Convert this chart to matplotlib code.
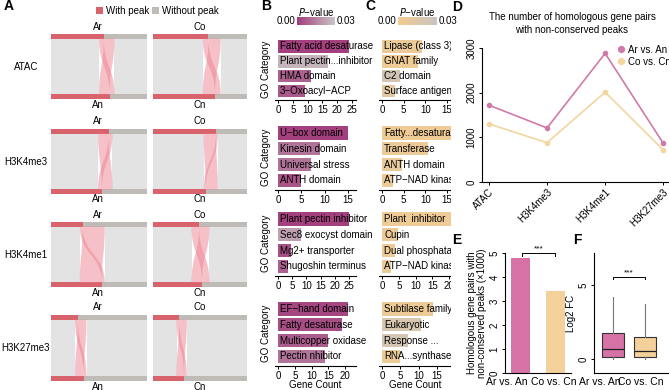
import matplotlib
matplotlib.use('Agg')
import matplotlib.pyplot as plt
import numpy as np
from matplotlib.path import Path
from matplotlib.patches import PathPatch, Rectangle
from matplotlib.colors import LinearSegmentedColormap
from matplotlib.lines import Line2D

plt.rcParams['font.family'] = ['Liberation Sans', 'DejaVu Sans']
plt.rcParams['font.size'] = 7
plt.rcParams['axes.linewidth'] = 0.8
plt.rcParams['xtick.major.size'] = 2.5
plt.rcParams['ytick.major.size'] = 2.5
plt.rcParams['xtick.major.width'] = 0.7
plt.rcParams['ytick.major.width'] = 0.7
plt.rcParams['xtick.major.pad'] = 1.2
plt.rcParams['ytick.major.pad'] = 1.5

# ---------------- data ----------------
marks = ['ATAC', 'H3K4me3', 'H3K4me1', 'H3K27me3']
# Panel A: fraction of gene pairs with conserved peak, peak only in first, peak only in second
ar_cons = [0.50, 0.49, 0.30, 0.25]
ar_only_first = [0.05, 0.11, 0.03, 0.03]
ar_only_second = [0.11, 0.04, 0.23, 0.09]
co_cons = [0.53, 0.54, 0.41, 0.25]
co_only_first = [0.06, 0.13, 0.08, 0.03]
co_only_second = [0.13, 0.02, 0.11, 0.08]

# Panel B (Ar vs. An GO enrichment)
b_terms = [
    ['Fatty acid desaturase', 'Plant pectin...inhibitor', 'HMA domain', '3\u2212Oxoacyl\u2212ACP'],
    ['U\u2212box domain', 'Kinesin domain', 'Universal stress', 'ANTH domain'],
    ['Plant pectin inhibitor', 'Sec8 exocyst domain', 'Mg2+ transporter', 'Shugoshin terminus'],
    ['EF\u2212hand domain', 'Fatty desaturase', 'Multicopper oxidase', 'Pectin nhibitor'],
]
b_counts = [[24, 17, 11, 9], [15, 9, 7, 5], [25, 8, 4.5, 3.5], [21, 19, 15, 14]]
b_pvals = [[0.001, 0.026, 0.008, 0.006], [0.001, 0.012, 0.012, 0.005],
           [0.001, 0.022, 0.004, 0.008], [0.002, 0.004, 0.007, 0.012]]
b_ticks = [[0, 5, 10, 15, 20, 25], [0, 5, 10, 15], [0, 5, 10, 15, 20, 25], [0, 5, 10, 15, 20]]

# Panel C (Co vs. Cn GO enrichment)
c_terms = [
    ['Lipase (class 3)', 'GNAT family', 'C2 domain', 'Surface antigen'],
    ['Fatty...desaturase', 'Transferase', 'ANTH domain', 'ATP\u2212NAD kinase'],
    ['Plant  inhibitor', 'Cupin', 'Dual phosphatase', 'ATP\u2212NAD kinase'],
    ['Subtilase family', 'Eukaryotic', 'Response ...', 'RNA...synthase'],
]
c_counts = [[9.2, 8.2, 4.1, 3.0], [17, 10.7, 4.5, 2.5], [21.5, 4.8, 4.0, 2.7], [14, 10.5, 7, 5]]
c_pvals = [[0.006, 0.003, 0.024, 0.012], [0.003, 0.005, 0.008, 0.004],
           [0.003, 0.006, 0.004, 0.006], [0.004, 0.02, 0.022, 0.004]]
c_ticks = [[0, 5, 10, 15], [0, 5, 10, 15], [0, 5, 10, 15, 20], [0, 5, 10, 15]]

# Panel D
d_ar = [1720, 1210, 2880, 870]
d_co = [1300, 880, 2010, 720]
# Panel E
e_labels = ['Ar vs. An', 'Co vs. Cn']
e_values = [4.79, 3.42]
# Panel F box stats: whislo, q1, med, q3, whishi
f_ar = [0.0, 0.14, 0.68, 1.76, 4.2]
f_co = [0.0, 0.14, 0.54, 1.49, 3.72]

# ---------------- style ----------------
RED = '#d9636d'
GRAYBAR = '#bfbbb7'
BG = '#e3e3e3'
RIB = '#ec8390'
PINK = '#d672a5'
BEIGE = '#f4d19b'
cmap_b = LinearSegmentedColormap.from_list('b', ['#a13d7b', '#cac6c6'])
cmap_c = LinearSegmentedColormap.from_list('c', ['#f3cc90', '#c9c4c0'])

W, H = 669, 390
fig = plt.figure(figsize=(W / 100, H / 100), dpi=100)


def pax(l, t, r, b, **kw):
    return fig.add_axes([l / W, 1 - b / H, (r - l) / W, (b - t) / H], **kw)


def ftext(x, y, s, **kw):
    kw.setdefault('ha', 'center')
    kw.setdefault('va', 'center')
    return fig.text(x / W, 1 - y / H, s, **kw)


def cat_labels(ax, positions, labels, dx_pts, fontsize=7.5):
    ax.set_xticks(positions)
    ax.set_xticklabels([])
    ax.tick_params(axis='x', length=0)
    for p, lab, dx in zip(positions, labels, dx_pts):
        ax.annotate(lab, (p, 0), xycoords=('data', 'axes fraction'), xytext=(dx, -3),
                    textcoords='offset points', ha='center', va='top', fontsize=fontsize,
                    annotation_clip=False)


# ---------------- Panel A ----------------
def ribbon(ax, tl, tr, bl, br, yt, yb):
    ym = (yt + yb) / 2
    verts = [(tl, yt), (tl, ym), (bl, ym), (bl, yb), (br, yb), (br, ym), (tr, ym), (tr, yt), (tl, yt)]
    codes = [Path.MOVETO, Path.CURVE4, Path.CURVE4, Path.CURVE4, Path.LINETO,
             Path.CURVE4, Path.CURVE4, Path.CURVE4, Path.CLOSEPOLY]
    ax.add_patch(PathPatch(Path(verts, codes), fc=RIB, ec='none', alpha=0.5, lw=0))


def sankey(ax, c, r1, r2):
    ax.set_xlim(0, 1)
    ax.set_ylim(0, 1)
    ax.axis('off')
    bh = 0.07
    yt, yb = 1 - bh, bh
    top_red, bot_red = c + r1, c + r2
    ax.add_patch(Rectangle((0, yt), top_red, bh, color=RED, lw=0))
    ax.add_patch(Rectangle((top_red, yt), 1 - top_red, bh, color=GRAYBAR, lw=0))
    ax.add_patch(Rectangle((0, 0), bot_red, bh, color=RED, lw=0))
    ax.add_patch(Rectangle((bot_red, 0), 1 - bot_red, bh, color=GRAYBAR, lw=0))
    ax.add_patch(Rectangle((0, yb), c, yt - yb, color=BG, lw=0))
    g0 = c + r1 + r2
    ax.add_patch(Rectangle((g0, yb), 1 - g0, yt - yb, color=BG, lw=0))
    ribbon(ax, c, c + r1, c + r2, c + r2 + r1, yt, yb)
    ribbon(ax, c + r1, c + r1 + r2, c, c + r2, yt, yb)


rows_px = [(34, 99), (129, 194), (222, 287), (315, 381)]
cols_px = [(51, 147), (153, 247)]
for i, (t, b) in enumerate(rows_px):
    ax1 = pax(cols_px[0][0], t, cols_px[0][1], b)
    sankey(ax1, ar_cons[i], ar_only_first[i], ar_only_second[i])
    ax2 = pax(cols_px[1][0], t, cols_px[1][1], b)
    sankey(ax2, co_cons[i], co_only_first[i], co_only_second[i])
    ftext(98, t - 7.5, 'Ar', fontsize=7)
    ftext(98, b + 5.5, 'An', fontsize=7)
    ftext(200, t - 7.5, 'Co', fontsize=7)
    ftext(200, b + 5.5, 'Cn', fontsize=7)
    ftext(26, (t + b) / 2, marks[i], fontsize=7)

ftext(4, 6, 'A', fontsize=10, fontweight='bold', ha='left')
# legend for A
fig.patches.append(Rectangle((96 / W, 1 - 14 / H), 7 / W, 7 / H, transform=fig.transFigure, color=RED, lw=0))
ftext(106, 10.5, 'With peak', ha='left', fontsize=7)
fig.patches.append(Rectangle((152 / W, 1 - 14 / H), 7 / W, 7 / H, transform=fig.transFigure, color=GRAYBAR, lw=0))
ftext(162, 10.5, 'Without peak', ha='left', fontsize=7)

# ---------------- Panels B & C ----------------
sub_px = [(38, 100), (124, 190), (210, 276), (300, 366)]


def go_panel(ax, terms, counts, pvals, cmap, zero_px, tick_px, tick_val, l, r, ticks):
    y = np.arange(len(terms))
    colors = cmap(np.array(pvals) / 0.03)
    ax.barh(y, counts, height=0.85, color=colors, lw=0)
    for yi, tname in zip(y, terms):
        ax.annotate(tname, (0, yi), xytext=(1.5, 0), textcoords='offset points',
                    va='center', ha='left', fontsize=7, annotation_clip=False)
    ax.set_ylim(3.6, -0.55)
    scale = (tick_px - zero_px) / tick_val
    ax.set_xlim((l - zero_px) / scale, (r - zero_px) / scale)
    ax.set_xticks(ticks)
    ax.set_yticks([])
    for s in ['top', 'right', 'left']:
        ax.spines[s].set_visible(False)


b_tickpx = [(352, 25), (348, 15), (349, 25), (345, 20)]
c_tickpx = [(447, 15), (447, 15), (449, 20), (437, 15)]
for i, (t, b) in enumerate(sub_px):
    axb = pax(275, t, 356, b)
    go_panel(axb, b_terms[i], b_counts[i], b_pvals[i], cmap_b, 278, b_tickpx[i][0], b_tickpx[i][1], 275, 356, b_ticks[i])
    axb.set_ylabel('GO Category', fontsize=7, labelpad=3)
    axc = pax(379, t, 452, b)
    go_panel(axc, c_terms[i], c_counts[i], c_pvals[i], cmap_c, 382, c_tickpx[i][0], c_tickpx[i][1], 379, 452, c_ticks[i])
    if i == 3:
        axb.set_xlabel('Gene Count', fontsize=7, labelpad=-0.5)
        axc.set_xlabel('Gene Count', fontsize=7, labelpad=-0.5)

ftext(261, 6, 'B', fontsize=10, fontweight='bold', ha='left')
ftext(365, 6, 'C', fontsize=10, fontweight='bold', ha='left')

grad = np.linspace(0, 1, 100).reshape(1, -1)
for (x0, x1, cm) in [(297, 335, cmap_b), (398, 437, cmap_c)]:
    axcb = pax(x0, 17, x1, 25)
    axcb.imshow(grad, aspect='auto', cmap=cm)
    axcb.axis('off')
    ftext(x0 - 2, 21, '0.00', ha='right', fontsize=7)
    ftext(x1 + 2, 21, '0.03', ha='left', fontsize=7)
    ftext((x0 + x1) / 2, 11.5, '$\\it{P}$\u2212value', fontsize=7)

# white mask to clip overflowing text of panel C
fig.patches.append(Rectangle((451 / W, 0), (W - 451) / W, 1, transform=fig.transFigure,
                             color='white', lw=0, zorder=1))

# ---------------- Panel D ----------------
axd = pax(482, 48, 669, 182)
axd.set_zorder(2)
x = np.arange(len(marks))
axd.plot(x, d_ar, '-o', color='#d07aa8', lw=1.2, ms=3, clip_on=False, label='Ar vs. An')
axd.plot(x, d_co, '-o', color='#f3d5a0', lw=1.2, ms=3, clip_on=False, label='Co vs. Cn')
axd.set_xlim(-0.12, 3.1)
axd.set_ylim(0, 3000)
axd.set_yticks([0, 1000, 2000, 3000])
axd.set_yticklabels(['0', '1000', '2000', '3000'], rotation=90, va='center')
axd.set_xticks(x)
axd.set_xticklabels(marks, rotation=45, ha='right', rotation_mode='anchor')
for s in ['top', 'right']:
    axd.spines[s].set_visible(False)
axd.legend(loc='upper left', bbox_to_anchor=(613 / W, 1 - 40 / H), bbox_transform=fig.transFigure,
           frameon=False, fontsize=7, handlelength=0.6, handletextpad=0.4, borderpad=0,
           labelspacing=0.2, markerscale=1.2,
           handles=[Line2D([], [], marker='o', ls='', color='#d07aa8', ms=3.5),
                    Line2D([], [], marker='o', ls='', color='#f3d5a0', ms=3.5)],
           labels=['Ar vs. An', 'Co vs. Cn'])
ftext(572, 17, 'The number of homologous gene pairs', fontsize=7, zorder=3)
ftext(572, 30, 'with non-conserved peaks', fontsize=7, zorder=3)
ftext(452, 7, 'D', fontsize=10, fontweight='bold', ha='left', zorder=3)

# ---------------- Panel E ----------------
axe = pax(505, 253, 571, 373)
axe.set_zorder(2)
xe = np.arange(len(e_labels))
axe.bar(xe, e_values, width=0.56, color=[PINK, BEIGE], lw=0)
axe.set_xlim(-0.45, 1.45)
axe.set_ylim(0, 5)
axe.set_yticks([0, 1, 2, 3, 4, 5])
axe.set_yticklabels(['0', '1', '2', '3', '4', '5'], rotation=90, va='center')
cat_labels(axe, xe, e_labels, [-10, -1])
for s in ['top', 'right']:
    axe.spines[s].set_visible(False)
axe.set_ylabel('Homologous gene pairs with\nnon-conserved peaks (\u00d71000)', fontsize=7, linespacing=1.0)
axe.yaxis.set_label_coords(-0.27, 0.5)
axe.plot([0.05, 0.05, 1.0, 1.0], [4.88, 5.0, 5.0, 4.88], color='black', lw=0.7, clip_on=False)
axe.text(0.52, 5.02, '***', ha='center', va='bottom', fontsize=6)
ftext(452, 240, 'E', fontsize=10, fontweight='bold', ha='left', zorder=3)

# ---------------- Panel F ----------------
axf = pax(594, 253, 669, 373)
axf.set_zorder(2)
stats = []
for lab, s in zip(e_labels, [f_ar, f_co]):
    stats.append(dict(label=lab, whislo=s[0], q1=s[1], med=s[2], q3=s[3], whishi=s[4], fliers=[]))
bp = axf.bxp(stats, positions=[0, 1], widths=0.68, patch_artist=True, showcaps=False,
             boxprops=dict(lw=0.8, edgecolor='#333333'),
             medianprops=dict(color='#222222', lw=0.9),
             whiskerprops=dict(color='#777777', lw=0.8))
for patch, col in zip(bp['boxes'], [PINK, BEIGE]):
    patch.set_facecolor(col)
axf.set_xlim(-0.6, 1.75)
axf.set_ylim(-0.95, 7.16)
axf.set_yticks([0, 5])
axf.set_yticklabels(['0', '5'], rotation=90, va='center')
cat_labels(axf, [0, 1], e_labels, [-10, -3])
for s in ['top', 'right']:
    axf.spines[s].set_visible(False)
axf.set_ylabel('Log2 FC', fontsize=7, labelpad=2)
axf.plot([0, 0, 1, 1], [5.4, 5.54, 5.54, 5.4], color='black', lw=0.7)
axf.text(0.5, 5.58, '***', ha='center', va='bottom', fontsize=6)
ftext(573, 240, 'F', fontsize=10, fontweight='bold', ha='left', zorder=3)

fig.savefig('out.png', dpi=100)
